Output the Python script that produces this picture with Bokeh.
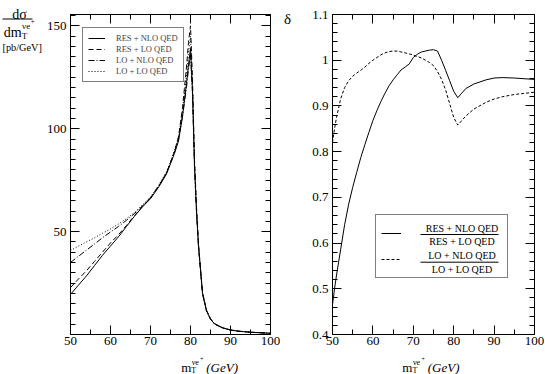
from bokeh.plotting import figure
from bokeh.layouts import row, column
from bokeh.models import (ColumnDataSource, Range1d, FixedTicker, LinearAxis,
                          Legend, LegendItem, CustomJSTickFormatter)
from bokeh.core.properties import value
from bokeh.embed import file_html
from bokeh.resources import INLINE

FONT = "Liberation Serif"

# ---------------- data: left panel (d sigma / d mT, pb/GeV) ----------------
mt_left = [50, 52, 54, 56, 58, 60, 62, 64, 66, 68, 70, 72, 74, 75, 76, 77, 78, 79,
           79.5, 80, 80.5, 81, 81.5, 82, 83, 84, 85, 86, 88, 90, 92, 95, 100]
res_nlo = [19.5, 24.0, 28.5, 33.5, 38.5, 43.0, 47.5, 52.5, 57.5, 62.0, 66.0, 71.5, 78.0,
           83.0, 88.0, 94.0, 106.0, 122.0, 131.0, 139.0, 118.0, 82.0, 60.0, 43.0, 20.0,
           11.5, 7.5, 5.2, 3.2, 2.2, 1.6, 1.1, 0.6]
res_lo = [22.8, 27.0, 31.0, 35.5, 40.0, 44.5, 48.5, 53.0, 57.8, 62.3, 66.3, 72.0, 78.5,
          83.5, 89.0, 96.0, 110.0, 130.0, 142.0, 150.0, 124.0, 85.0, 62.0, 44.0, 20.5,
          11.8, 7.7, 5.3, 3.3, 2.2, 1.6, 1.1, 0.6]
lo_nlo = [35.0, 38.0, 41.0, 44.0, 47.0, 49.8, 52.5, 55.5, 58.8, 62.5, 66.5, 72.0, 78.5,
          83.5, 88.5, 95.0, 106.0, 120.0, 129.0, 136.0, 117.0, 81.0, 59.5, 42.5, 19.8,
          11.4, 7.4, 5.1, 3.2, 2.2, 1.6, 1.1, 0.6]
lo_lo = [40.8, 43.0, 45.0, 47.0, 49.2, 51.3, 53.7, 56.3, 59.3, 63.0, 66.8, 72.3, 79.0,
         84.0, 89.5, 96.0, 109.0, 126.0, 137.0, 145.0, 121.0, 84.0, 61.0, 43.5, 20.2,
         11.6, 7.6, 5.2, 3.3, 2.2, 1.6, 1.1, 0.6]

# ---------------- data: right panel (ratio delta) ----------------
mt_right = [50, 50.5, 51, 52, 53, 54, 55, 56, 57, 58, 59, 60, 61, 62, 63, 64, 65, 66, 67,
            68, 69, 70, 71, 72, 73, 74, 75, 76, 77, 78, 79, 80, 81, 82, 83, 85, 88, 90,
            92, 95, 100]
delta_res = [0.465, 0.50, 0.53, 0.585, 0.64, 0.685, 0.722, 0.755, 0.787, 0.815, 0.842,
             0.868, 0.89, 0.91, 0.928, 0.944, 0.957, 0.968, 0.979, 0.985, 0.992, 1.006,
             1.013, 1.018, 1.02, 1.022, 1.023, 1.02, 1.0, 0.978, 0.955, 0.932, 0.918,
             0.928, 0.938, 0.948, 0.957, 0.961, 0.962, 0.961, 0.958]
delta_lo = [0.82, 0.85, 0.875, 0.915, 0.94, 0.955, 0.965, 0.972, 0.978, 0.985, 0.993,
            1.0, 1.006, 1.012, 1.016, 1.019, 1.02, 1.02, 1.018, 1.016, 1.014, 1.011,
            1.008, 1.005, 1.0, 0.995, 0.988, 0.975, 0.958, 0.935, 0.905, 0.875, 0.858,
            0.868, 0.878, 0.893, 0.908, 0.915, 0.92, 0.925, 0.93]

# ---------------- ticks / texts ----------------
x_major = [50, 60, 70, 80, 90, 100]
x_minor = [55, 65, 75, 85, 95]
yl_major = [50, 100, 150]
yl_minor = list(range(0, 160, 5))
yr_major = [0.4, 0.5, 0.6, 0.7, 0.8, 0.9, 1.0, 1.1]
yr_minor = [round(0.4 + 0.02 * i, 2) for i in range(36)]

legend_left = ["RES + NLO QED", "RES + LO QED", "LO + NLO QED", "LO + LO QED"]
ratio_num = ["RES + NLO QED", "LO + NLO QED"]
ratio_den = ["RES + LO QED", "LO + LO QED"]

TICK_FS = "13px"
TOTAL_H = 374
PH = 352            # height of each plot figure (frame 14..334)
XH = TOTAL_H - PH   # strip carrying the x-axis title


def make_fig(width, border_left, y_range):
    p = figure(width=width, height=PH, x_range=Range1d(50, 100), y_range=y_range,
               output_backend="svg", toolbar_location=None,
               min_border_left=border_left, min_border_right=10,
               min_border_top=14, min_border_bottom=18)
    p.grid.visible = False
    p.outline_line_color = "black"
    p.outline_line_width = 1
    p.background_fill_color = "white"
    p.border_fill_color = "white"
    return p


def strip(width, height, xr, yr, bl=0, br=0):
    # blank helper canvas (no axes) whose ranges are picture pixels
    s = figure(width=width, height=height, x_range=Range1d(*xr), y_range=Range1d(*yr),
               output_backend="svg", toolbar_location=None,
               x_axis_location=None, y_axis_location=None,
               min_border_left=bl, min_border_right=br, min_border_top=0,
               min_border_bottom=0)
    s.grid.visible = False
    s.outline_line_color = None
    s.background_fill_color = "white"
    s.border_fill_color = "white"
    return s


def txt(p, x, y, t, size, style="normal", align="left", baseline="alphabetic"):
    p.text(x=[x], y=[y], text=[t], text_font=value(FONT), text_font_size=value(size),
           text_font_style=style, text_align=align, text_baseline=baseline,
           text_color="black")


def config_axis(ax, ticks, minor, show, standoff=5, overrides=None):
    ax.ticker = FixedTicker(ticks=ticks, minor_ticks=minor)
    ax.axis_line_color = "black"
    ax.major_tick_in = 9
    ax.major_tick_out = 0
    ax.minor_tick_in = 5
    ax.minor_tick_out = 0
    ax.major_tick_line_color = "black"
    ax.minor_tick_line_color = "black"
    ax.major_label_text_font = FONT
    ax.major_label_text_color = "black"
    if show:
        ax.major_label_text_font_size = TICK_FS
        ax.major_label_standoff = standoff
    else:
        ax.formatter = CustomJSTickFormatter(code="return ''")
        ax.major_label_text_font_size = "1px"
        ax.major_label_standoff = 0
    if overrides:
        ax.major_label_overrides = overrides


def frame_axes(p, yt, ym, overrides=None):
    config_axis(p.xaxis[0], x_major, x_minor, True, standoff=2)
    config_axis(p.yaxis[0], yt, ym, True, standoff=4, overrides=overrides)
    top = LinearAxis()
    config_axis(top, x_major, x_minor, False)
    p.add_layout(top, "above")
    right = LinearAxis()
    config_axis(right, yt, ym, False)
    p.add_layout(right, "right")


def xtitle(s, x0):
    # m_T^{nu e+} (GeV); x0 = left x of "m", picture coordinates
    txt(s, x0, 366.5, "m", "13px")
    txt(s, x0 + 10.2, 369.5, "T", "8px")
    txt(s, x0 + 10.7, 361.5, "νe", "8px")
    txt(s, x0 + 19.2, 358.5, "+", "6px")
    txt(s, x0 + 25.5, 366.5, "(GeV)", "13px", style="italic")


# ================= left y-title strip (x 0..43) =================
ylab1 = strip(43, TOTAL_H, (0, 43), (TOTAL_H, 0))
txt(ylab1, 19, 14, "dσ", "14px", align="center")
ylab1.segment(x0=[2], y0=[18.5], x1=[32], y1=[18.5], line_color="black", line_width=1)
txt(ylab1, 3.3, 31.5, "dm", "14px")
txt(ylab1, 21.3, 35.3, "T", "9px")
txt(ylab1, 21.6, 25.3, "νe", "9px")
txt(ylab1, 30.2, 21.3, "+", "7px")
txt(ylab1, 2, 46.5, "[pb/GeV]", "10.3px")

# ================= left panel (x 43..280) =================
p1 = make_fig(237, 24, Range1d(0, 155.5))
frame_axes(p1, yl_major, yl_minor)
src_l = ColumnDataSource(dict(x=mt_left, a=res_nlo, b=res_lo, c=lo_nlo, d=lo_lo))
r1 = p1.line("x", "a", source=src_l, line_color="black", line_width=1)
r2 = p1.line("x", "b", source=src_l, line_color="black", line_width=1, line_dash="5 3")
r3 = p1.line("x", "c", source=src_l, line_color="black", line_width=1, line_dash="6 2 1 2")
r4 = p1.line("x", "d", source=src_l, line_color="black", line_width=1, line_dash="1 2")
leg1 = Legend(items=[LegendItem(label=t, renderers=[r]) for t, r in
                     zip(legend_left, [r1, r2, r3, r4])],
              location=(12, 252), label_text_font=FONT, label_text_font_size="8.5px",
              glyph_width=17, glyph_height=10, label_height=10, spacing=1, padding=5,
              margin=0, label_standoff=11, border_line_color="black",
              border_line_width=1, background_fill_alpha=1.0)
p1.add_layout(leg1)

xlab1 = strip(237, XH, (67, 270), (TOTAL_H, PH), bl=24, br=10)
xtitle(xlab1, 179.3)

# ================= delta strip (x 280..296) =================
dfig = strip(16, TOTAL_H, (280, 296), (TOTAL_H, 0))
txt(dfig, 287, 18, "δ", "15px", align="center", baseline="middle")

# ================= right panel (x 296..544) =================
p2 = make_fig(248, 36, Range1d(0.4, 1.1))
frame_axes(p2, yr_major, yr_minor, overrides={1: "1"})
src_r = ColumnDataSource(dict(x=mt_right, a=delta_res, b=delta_lo))
q1 = p2.line("x", "a", source=src_r, line_color="black", line_width=1)
q2 = p2.line("x", "b", source=src_r, line_color="black", line_width=1, line_dash="3 2")
leg2 = Legend(items=[LegendItem(label=" ", renderers=[q1]),
                     LegendItem(label=" ", renderers=[q2])],
              location=(43, 56), label_text_font=FONT, label_text_font_size="10px",
              glyph_width=20, glyph_height=26, label_height=26, label_width=95,
              spacing=0, padding=5, margin=0, label_standoff=6,
              border_line_color="black", border_line_width=1, background_fill_alpha=0.0)
p2.add_layout(leg2)

# fraction labels inside the right legend box (data units of the panel)
kx = 1 / 4.04
ky = 0.7 / 320
for k in range(2):
    yb = 0.4 + (72.3 + (1 - k) * 27.7) * ky
    txt(p2, 50 + 129.5 * kx, yb + 6.4 * ky, ratio_num[k], "10px", align="center",
        baseline="middle")
    p2.segment(x0=[50 + 88 * kx], y0=[yb], x1=[50 + 166 * kx], y1=[yb],
               line_color="black", line_width=1)
    txt(p2, 50 + 129.5 * kx, yb - 7.4 * ky, ratio_den[k], "10px", align="center",
        baseline="middle")

xlab2 = strip(248, XH, (332, 534), (TOTAL_H, PH), bl=36, br=10)
xtitle(xlab2, 401.7)

layout = row(ylab1, column(p1, xlab1), dfig, column(p2, xlab2))
open("out.html", "w").write(file_html(layout, INLINE))
